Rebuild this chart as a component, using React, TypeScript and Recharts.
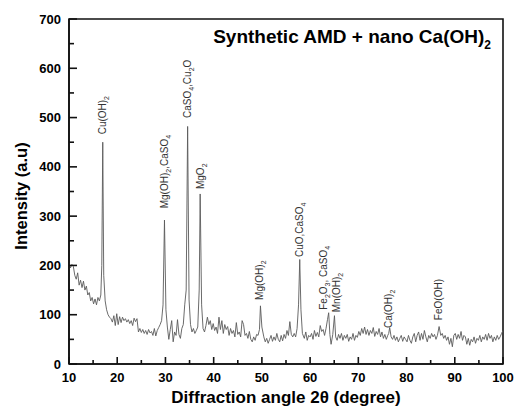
import React from 'react';
import { LineChart, Line, XAxis, YAxis, ReferenceDot, ReferenceArea } from 'recharts';

// [2θ (degree), intensity (a.u)]
const pattern10to30: [number, number][] = [
  [10.0, 205], [10.3, 195], [10.6, 202], [10.9, 198], [11.2, 180], [11.5, 172], [11.8, 185],
  [12.1, 160], [12.4, 170], [12.7, 155], [13.0, 168], [13.3, 150], [13.6, 158], [13.9, 140],
  [14.2, 145], [14.5, 128], [14.8, 135], [15.1, 122], [15.4, 132], [15.7, 120], [16.0, 135],
  [16.3, 128], [16.6, 140], [16.8, 200], [17.0, 450], [17.2, 180], [17.5, 128], [17.8, 110],
  [18.1, 100], [18.4, 95], [18.7, 92], [19.0, 85], [19.3, 98], [19.6, 78], [19.9, 102],
  [20.2, 80], [20.5, 96], [20.8, 84], [21.1, 95], [21.4, 88], [21.7, 92], [22.0, 85],
  [22.3, 90], [22.6, 82], [22.9, 88], [23.2, 78], [23.5, 93], [23.8, 86], [24.1, 92],
  [24.4, 65], [24.7, 72], [25.0, 64], [25.3, 70], [25.6, 62], [25.9, 68], [26.2, 60],
  [26.5, 70], [26.8, 63], [27.1, 66], [27.4, 58], [27.7, 72], [28.0, 57], [28.3, 68],
  [28.6, 74], [28.9, 80], [29.2, 88], [29.5, 120], [29.8, 292],
];
const pattern30to50: [number, number][] = [
  [30.1, 110], [30.4, 75], [30.7, 50], [31.0, 70], [31.3, 88], [31.6, 45], [31.9, 65],
  [32.2, 58], [32.5, 90], [32.8, 60], [33.1, 52], [33.4, 72], [33.7, 80], [34.0, 120],
  [34.3, 150], [34.6, 482], [34.9, 130], [35.2, 80], [35.5, 65], [35.8, 72], [36.1, 62],
  [36.4, 68], [36.7, 75], [37.0, 150], [37.2, 345], [37.5, 120], [37.8, 72], [38.1, 65],
  [38.4, 78], [38.7, 95], [39.0, 80], [39.3, 88], [39.6, 70], [39.9, 82], [40.2, 68],
  [40.5, 75], [40.8, 62], [41.1, 95], [41.4, 70], [41.7, 88], [42.0, 62], [42.3, 80],
  [42.6, 70], [42.9, 76], [43.2, 58], [43.5, 72], [43.8, 62], [44.1, 68], [44.4, 55],
  [44.7, 84], [45.0, 60], [45.3, 65], [45.6, 55], [45.9, 88], [46.2, 80], [46.5, 58],
  [46.8, 62], [47.1, 52], [47.4, 66], [47.7, 50], [48.0, 45], [48.3, 55], [48.6, 48],
  [48.9, 60], [49.2, 58], [49.5, 70], [49.7, 118],
];
const pattern50to70: [number, number][] = [
  [50.0, 75], [50.4, 55], [50.7, 45], [51.0, 52], [51.3, 42], [51.6, 50], [51.9, 58],
  [52.2, 46], [52.5, 55], [52.8, 48], [53.1, 62], [53.4, 50], [53.7, 45], [54.0, 58],
  [54.3, 47], [54.6, 60], [54.9, 52], [55.2, 68], [55.5, 58], [55.8, 86], [56.1, 60],
  [56.4, 55], [56.7, 62], [57.0, 55], [57.3, 72], [57.6, 120], [57.85, 212], [58.1, 110],
  [58.4, 62], [58.8, 52], [59.1, 65], [59.4, 48], [59.7, 58], [60.0, 55], [60.3, 62],
  [60.6, 50], [60.9, 68], [61.2, 56], [61.5, 64], [61.8, 55], [62.1, 78], [62.4, 66],
  [62.7, 70], [63.0, 58], [63.3, 72], [63.6, 90], [63.85, 104], [64.1, 60], [64.35, 40],
  [64.7, 60], [65.05, 98], [65.3, 55], [65.6, 48], [65.9, 60], [66.2, 52], [66.5, 62],
  [66.8, 48], [67.1, 58], [67.4, 52], [67.7, 60], [68.0, 46], [68.3, 55], [68.6, 50],
  [68.9, 62], [69.2, 48], [69.5, 58], [69.8, 54],
];
const pattern70to100: [number, number][] = [
  [70.1, 66], [70.4, 58], [70.7, 72], [71.0, 62], [71.3, 75], [71.6, 60], [71.9, 70],
  [72.2, 58], [72.5, 68], [72.8, 62], [73.1, 74], [73.4, 56], [73.7, 66], [74.0, 60],
  [74.3, 72], [74.6, 55], [74.9, 65], [75.2, 52], [75.5, 60], [75.8, 50], [76.1, 58],
  [76.3, 62], [76.5, 74], [76.8, 55], [77.1, 50], [77.4, 58], [77.7, 48], [78.0, 55],
  [78.3, 45], [78.6, 52], [78.9, 58], [79.2, 46], [79.5, 55], [79.8, 50], [80.1, 45],
  [80.4, 58], [80.7, 48], [81.0, 42], [81.3, 55], [81.6, 62], [81.9, 45], [82.2, 58],
  [82.5, 65], [82.8, 48], [83.1, 62], [83.4, 50], [83.7, 68], [84.0, 55], [84.3, 45],
  [84.6, 58], [84.9, 52], [85.2, 62], [85.5, 55], [85.8, 60], [86.1, 50], [86.4, 58],
  [86.75, 76], [87.1, 58], [87.4, 62], [87.7, 52], [88.0, 58], [88.3, 48], [88.6, 55],
  [88.9, 40], [89.2, 52], [89.5, 35], [89.8, 58], [90.1, 62], [90.4, 50], [90.7, 60],
  [91.0, 52], [91.3, 66], [91.6, 48], [91.9, 58], [92.2, 55], [92.5, 40], [92.8, 52],
  [93.1, 38], [93.4, 50], [93.7, 45], [94.0, 55], [94.3, 42], [94.6, 52], [94.9, 48],
  [95.2, 58], [95.5, 45], [95.8, 55], [96.1, 50], [96.4, 60], [96.7, 48], [97.0, 62],
  [97.3, 52], [97.6, 58], [97.9, 45], [98.2, 55], [98.5, 48], [98.8, 58], [99.1, 50],
  [99.4, 55], [99.7, 62], [100.0, 68],
];

// peak labels: angle of label, intensity where label starts, text (_n = subscript)
const peakLabels: { angle: number; base: number; text: string }[] = [
  { angle: 17.0, base: 466, text: 'Cu(OH)_2' },
  { angle: 29.8, base: 316, text: 'Mg(OH)_2,CaSO_4' },
  { angle: 34.6, base: 499, text: 'CaSO_4,Cu_2O' },
  { angle: 37.2, base: 355, text: 'MgO_2' },
  { angle: 49.6, base: 130, text: 'Mg(OH)_2' },
  { angle: 57.8, base: 217, text: 'CuO,CaSO_4' },
  { angle: 62.8, base: 110, text: 'Fe_2O_3, CaSO_4' },
  { angle: 65.5, base: 105, text: 'Mn(OH)_2' },
  { angle: 76.3, base: 73, text: 'Ca(OH)_2' },
  { angle: 86.7, base: 89, text: 'FeO(OH)' },
];

const chartTitle = 'Synthetic AMD + nano Ca(OH)_2';
const xTitle = 'Diffraction angle 2θ (degree)';
const yTitle = 'Intensity (a.u)';

const xTicks = [10, 15, 20, 25, 30, 35, 40, 45, 50, 55, 60, 65, 70, 75, 80, 85, 90, 95, 100];
const yTicks = [0, 50, 100, 150, 200, 250, 300, 350, 400, 450, 500, 550, 600, 650, 700];
const X_DOMAIN: [number, number] = [10, 100];
const Y_DOMAIN: [number, number] = [0, 700];

const chartData = [...pattern10to30, ...pattern30to50, ...pattern50to70, ...pattern70to100].map(
  ([angle, intensity]) => ({ angle, intensity })
);

const FONT = "Arial, 'Liberation Sans', Helvetica, sans-serif";
const INK = '#111';
const LW = 1.6;

const renderParts = (text: string, size: number, subSize: number, shift: number) => {
  const parts = text.split(/(_\d)/).filter((p) => p.length > 0);
  let cur = 0;
  return parts.map((p, i) => {
    const sub = p.startsWith('_');
    const target = sub ? shift : 0;
    const dy = target - cur;
    cur = target;
    return (
      <tspan key={i} dy={dy} fontSize={sub ? subSize : size}>
        {sub ? p.slice(1) : p}
      </tspan>
    );
  });
};

const XTick = (props: any) => {
  const { x, y, payload } = props;
  const v = payload.value;
  const major = v % 10 === 0;
  const len = major ? 7 : 4;
  return (
    <g>
      <path d={`M${x},${y}L${x},${y - len}`} stroke={INK} strokeWidth={LW} fill="none" />
      {major && (
        <text x={x} y={y + 18} textAnchor="middle" fontFamily={FONT} fontWeight="bold" fontSize={13} fill="#000">
          {v}
        </text>
      )}
    </g>
  );
};

const YTick = (props: any) => {
  const { x, y, payload } = props;
  const v = payload.value;
  const major = v % 100 === 0;
  const len = major ? 8 : 5;
  return (
    <g>
      <path d={`M${x},${y}L${x + len},${y}`} stroke={INK} strokeWidth={LW} fill="none" />
      {major && (
        <text x={x - 8} y={y + 4.5} textAnchor="end" fontFamily={FONT} fontWeight="bold" fontSize={13} fill="#000">
          {v}
        </text>
      )}
    </g>
  );
};

const FrameShape = (props: any) => {
  const { x, y, width, height } = props;
  if ([x, y, width, height].some((n) => typeof n !== 'number' || Number.isNaN(n))) return null;
  return (
    <path
      d={`M${x},${y}L${x + width},${y}L${x + width},${y + height}L${x},${y + height}Z`}
      stroke={INK}
      strokeWidth={LW}
      fill="none"
    />
  );
};

const PeakLabel = (props: any) => {
  const { viewBox, text } = props;
  if (!viewBox) return null;
  const x = viewBox.x + (viewBox.width || 0) / 2;
  const y = viewBox.y + (viewBox.height || 0) / 2;
  return (
    <text x={x} y={y + 3.5} transform={`rotate(-90 ${x} ${y})`} fontFamily={FONT} fontSize={10} fill="#333">
      {renderParts(text, 10, 7, 3)}
    </text>
  );
};

const TitleLabel = (props: any) => {
  const { viewBox } = props;
  if (!viewBox) return null;
  const x = viewBox.x + (viewBox.width || 0) / 2;
  const y = viewBox.y + (viewBox.height || 0) / 2;
  return (
    <text x={x - 12} y={y + 23.5} textAnchor="end" fontFamily={FONT} fontWeight="bold" fontSize={19} fill="#000">
      {renderParts(chartTitle, 19, 12, 6)}
    </text>
  );
};

const XTitle = (props: any) => {
  const { viewBox } = props;
  if (!viewBox) return null;
  return (
    <text x={viewBox.x + viewBox.width / 2} y={viewBox.y + 39} textAnchor="middle" fontFamily={FONT}
      fontWeight="bold" fontSize={17} fill="#000">
      {xTitle}
    </text>
  );
};

const YTitle = (props: any) => {
  const { viewBox } = props;
  if (!viewBox) return null;
  const x = viewBox.x + 26.5;
  const y = viewBox.y + viewBox.height / 2 + 4.5;
  return (
    <text x={x} y={y} transform={`rotate(-90 ${x} ${y})`} textAnchor="middle" fontFamily={FONT}
      fontWeight="bold" fontSize={16.5} fill="#000">
      {yTitle}
    </text>
  );
};

export default function App() {
  return (
    <div style={{ position: 'absolute', left: 0, top: 0, width: 516, height: 407, background: '#fff' }}>
      <LineChart width={516} height={407} data={chartData} margin={{ top: 19, right: 13, left: 0, bottom: 0 }}>
        <XAxis
          dataKey="angle"
          type="number"
          domain={X_DOMAIN}
          allowDataOverflow
          ticks={xTicks}
          interval={0}
          height={43}
          tickSize={0}
          tickMargin={0}
          tickLine={false}
          axisLine={{ stroke: INK, strokeWidth: LW }}
          tick={<XTick />}
          label={{ content: (lp: any) => <XTitle {...lp} /> }}
        />
        <YAxis
          type="number"
          domain={Y_DOMAIN}
          allowDataOverflow
          ticks={yTicks}
          interval={0}
          width={69}
          tickSize={0}
          tickMargin={0}
          tickLine={false}
          axisLine={{ stroke: INK, strokeWidth: LW }}
          tick={<YTick />}
          label={{ content: (lp: any) => <YTitle {...lp} /> }}
        />
        <ReferenceArea x1={10} x2={100} y1={0} y2={700} shape={(sp: any) => <FrameShape {...sp} />} />
        <Line
          type="linear"
          dataKey="intensity"
          stroke="#5a5a5a"
          strokeWidth={0.9}
          dot={false}
          isAnimationActive={false}
        />
        {peakLabels.map((p) => (
          <ReferenceDot
            key={p.text}
            x={p.angle}
            y={p.base}
            r={1}
            fill="none"
            stroke="none"
            label={(lp: any) => <PeakLabel {...lp} text={p.text} />}
          />
        ))}
        <ReferenceDot
          x={100}
          y={700}
          r={1}
          fill="none"
          stroke="none"
          label={(lp: any) => <TitleLabel {...lp} />}
        />
      </LineChart>
    </div>
  );
}
